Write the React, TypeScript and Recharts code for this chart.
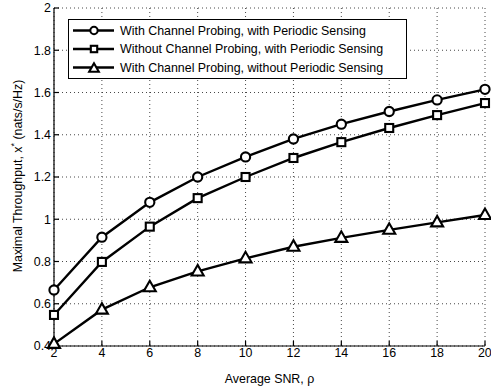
import React from 'react';
import { LineChart, Line, XAxis, YAxis, CartesianGrid, Legend } from 'recharts';

const snr = [2, 4, 6, 8, 10, 12, 14, 16, 18, 20];
const withProbingWithSensing = [0.665, 0.915, 1.08, 1.2, 1.295, 1.38, 1.45, 1.51, 1.565, 1.615];
const withoutProbingWithSensing = [0.547, 0.798, 0.965, 1.1, 1.2, 1.29, 1.365, 1.432, 1.493, 1.55];
const withProbingWithoutSensing = [0.41, 0.572, 0.678, 0.753, 0.815, 0.87, 0.912, 0.95, 0.985, 1.02];
const seriesNames = [
  'With Channel Probing, with Periodic Sensing',
  'Without Channel Probing, with Periodic Sensing',
  'With Channel Probing, without Periodic Sensing',
];
const xTicks = [2, 4, 6, 8, 10, 12, 14, 16, 18, 20];
const yTicks = [0.4, 0.6, 0.8, 1, 1.2, 1.4, 1.6, 1.8, 2];

const data = snr.map((s, i) => ({
  snr: s,
  a: withProbingWithSensing[i],
  b: withoutProbingWithSensing[i],
  c: withProbingWithoutSensing[i],
}));

const FONT = '"Liberation Sans", Arial, Helvetica, sans-serif';

type MarkerKind = 'circle' | 'square' | 'triangle';

function Marker({ kind, cx, cy, s }: { kind: MarkerKind; cx: number; cy: number; s: number }) {
  const common = { fill: '#fff', stroke: '#000', strokeWidth: 2.1 };
  if (kind === 'circle') return <circle cx={cx} cy={cy} r={4.6 * s} {...common} />;
  if (kind === 'square')
    return <rect x={cx - 4 * s} y={cy - 4 * s} width={8 * s} height={8 * s} {...common} />;
  const pts = `${cx},${cy - 6.5 * s} ${cx - 6 * s},${cy + 4 * s} ${cx + 6 * s},${cy + 4 * s}`;
  return <polygon points={pts} {...common} strokeLinejoin="miter" />;
}

const makeDot = (kind: MarkerKind) => (props: any) => {
  const { cx, cy, index } = props;
  if (cx == null || cy == null) return <g key={`${kind}-${index}`} />;
  return (
    <g key={`${kind}-${index}`}>
      <Marker kind={kind} cx={cx} cy={cy} s={1} />
    </g>
  );
};

const kinds: MarkerKind[] = ['circle', 'square', 'triangle'];

const LegendBox = () => (
  <div
    style={{
      width: 339,
      height: 60,
      boxSizing: 'border-box',
      border: '1px solid #000',
      background: '#fff',
    }}
  >
    <svg width={337} height={58} style={{ display: 'block' }}>
      {seriesNames.map((name, i) => {
        const y = 10.5 + i * 18.5;
        return (
          <g key={name}>
            <line x1={4} x2={45} y1={y} y2={y} stroke="#000" strokeWidth={2.4} />
            <Marker kind={kinds[i]} cx={25} cy={kinds[i] === 'triangle' ? y + 1 : y} s={0.8} />
            <text x={51} y={y} dominantBaseline="central" fontFamily={FONT} fontSize={12.4} fill="#000">
              {name}
            </text>
          </g>
        );
      })}
    </svg>
  </div>
);

const YLabel = () => (
  <text
    transform="translate(18,176) rotate(-90)"
    textAnchor="middle"
    dominantBaseline="central"
    fontFamily={FONT}
    fontSize={12.4}
    fill="#000"
  >
    Maximal Throughput, x
    <tspan dy={-4} fontSize={9}>*</tspan>
    <tspan dy={4}> (nats/s/Hz)</tspan>
  </text>
);

const XLabel = () => (
  <text x={269.5} y={383} textAnchor="middle" fontFamily={FONT} fontSize={12.4} fill="#000">
    Average SNR, ρ
  </text>
);

const fmt = (v: number) => String(Number(v.toFixed(1)));

export default function App() {
  return (
    <div style={{ position: 'absolute', left: 0, top: 0, background: '#fff' }}>
      <LineChart
        width={491}
        height={387}
        data={data}
        margin={{ top: 8, right: 6, bottom: 0, left: 0 }}
        style={{ fontFamily: FONT }}
      >
        <CartesianGrid stroke="#333" strokeDasharray="1 3" strokeWidth={0.9} />
        <XAxis
          dataKey="snr"
          type="number"
          domain={[2, 20]}
          ticks={xTicks}
          height={41}
          stroke="#000"
          strokeWidth={1.2}
          tickSize={-5}
          tickMargin={7}
          tick={{ fill: '#000', fontSize: 12.4, fontFamily: FONT }}
          label={<XLabel />}
        />
        <XAxis
          xAxisId="top"
          orientation="top"
          dataKey="snr"
          type="number"
          domain={[2, 20]}
          ticks={xTicks}
          height={0}
          stroke="#000"
          strokeWidth={1.2}
          tickSize={-5}
          tick={false}
        />
        <YAxis
          type="number"
          domain={[0.4, 2]}
          ticks={yTicks}
          width={54}
          stroke="#000"
          strokeWidth={1.2}
          tickSize={-5}
          tickMargin={8}
          tickFormatter={fmt}
          tick={{ fill: '#000', fontSize: 12.4, fontFamily: FONT }}
          label={<YLabel />}
        />
        <YAxis
          yAxisId="right"
          orientation="right"
          type="number"
          domain={[0.4, 2]}
          ticks={yTicks}
          width={0}
          stroke="#000"
          strokeWidth={1.2}
          tickSize={-5}
          tick={false}
        />
        <Legend
          layout="vertical"
          align="center"
          verticalAlign="middle"
          content={() => <LegendBox />}
          wrapperStyle={{ position: 'absolute', left: 68, top: 19, width: 339, height: 60 }}
        />
        <Line
          dataKey="a"
          name={seriesNames[0]}
          stroke="#000"
          strokeWidth={2.4}
          dot={makeDot('circle')}
          isAnimationActive={false}
        />
        <Line
          dataKey="b"
          name={seriesNames[1]}
          stroke="#000"
          strokeWidth={2.4}
          dot={makeDot('square')}
          isAnimationActive={false}
        />
        <Line
          dataKey="c"
          name={seriesNames[2]}
          stroke="#000"
          strokeWidth={2.4}
          dot={makeDot('triangle')}
          isAnimationActive={false}
        />
      </LineChart>
    </div>
  );
}
